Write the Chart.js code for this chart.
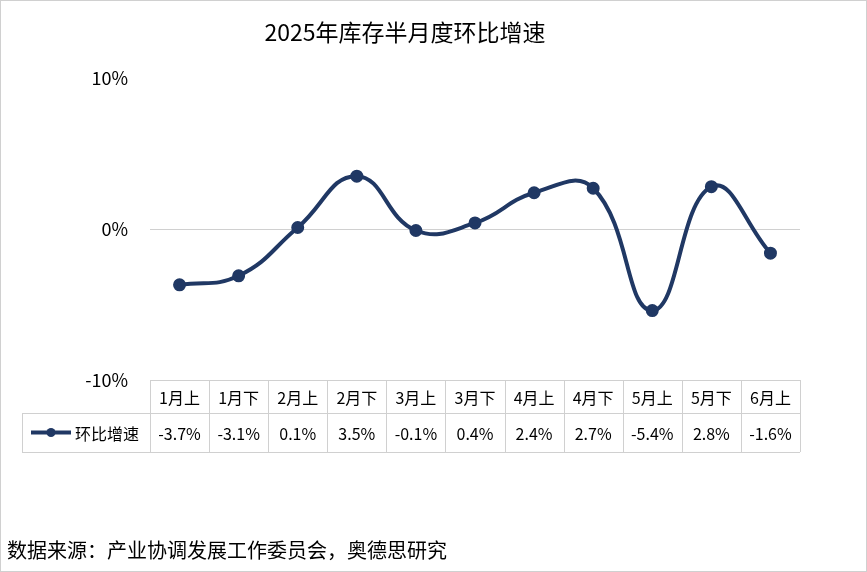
<!DOCTYPE html>
<html>
<head>
<meta charset="utf-8">
<script src="https://cdn.jsdelivr.net/npm/chart.js@4"></script>
<style>
  html, body { margin: 0; padding: 0; background: #fff; }
  #wrap { width: 865px; height: 570px; border: 1px solid #d0d0d0; position: relative; }
</style>
</head>
<body>
<div id="wrap"><canvas id="chart" width="865" height="570"></canvas></div>
<script>
const categories = ['1月上', '1月下', '2月上', '2月下', '3月上', '3月下', '4月上', '4月下', '5月上', '5月下', '6月上'];
const growth = [-3.7, -3.1, 0.1, 3.5, -0.1, 0.4, 2.4, 2.7, -5.4, 2.8, -1.6];
const yTicks = [-10, 0, 10];

const navy = '#203864';
const FONT = '"Microsoft YaHei", "Noto Sans CJK SC", sans-serif';

// draws title, data table under the plot, and the source note
const tablePlugin = {
    id: 'tablePlugin',
    afterDraw(chart) {
        const ctx = chart.ctx;
        const xs = chart.scales.x;
        const area = chart.chartArea;
        const colW = (area.right - area.left) / categories.length;
        const top = area.bottom, mid = top + 33, bot = mid + 39;
        const legL = 21;

        ctx.save();
        ctx.strokeStyle = '#d0d0d0';
        ctx.lineWidth = 1;
        ctx.beginPath();
        ctx.moveTo(area.left, top + 0.5); ctx.lineTo(area.right, top + 0.5);
        ctx.moveTo(legL, mid + 0.5); ctx.lineTo(area.right, mid + 0.5);
        ctx.moveTo(legL, bot + 0.5); ctx.lineTo(area.right, bot + 0.5);
        ctx.moveTo(legL + 0.5, mid); ctx.lineTo(legL + 0.5, bot);
        for (let i = 0; i <= categories.length; i++) {
            const x = Math.round(area.left + i * colW) + 0.5;
            ctx.moveTo(x, top); ctx.lineTo(x, bot);
        }
        ctx.stroke();

        ctx.fillStyle = '#000';
        ctx.font = '16px ' + FONT;
        ctx.textAlign = 'center';
        ctx.textBaseline = 'middle';
        categories.forEach((c, i) => {
            const x = xs.getPixelForValue(i);
            ctx.fillText(c, x, (top + mid) / 2 + 1);
            ctx.fillText(growth[i].toFixed(1) + '%', x, (mid + bot) / 2 + 1);
        });

        // legend key
        const ly = (mid + bot) / 2;
        ctx.strokeStyle = navy;
        ctx.lineWidth = 4;
        ctx.beginPath(); ctx.moveTo(30, ly); ctx.lineTo(70, ly); ctx.stroke();
        ctx.fillStyle = navy;
        ctx.beginPath(); ctx.arc(50, ly, 4.5, 0, Math.PI * 2); ctx.fill();
        ctx.fillStyle = '#000';
        ctx.textAlign = 'left';
        ctx.fillText('环比增速', 74, ly + 1);

        // title
        ctx.textAlign = 'center';
        ctx.font = '23px ' + FONT;
        ctx.fillText('2025年库存半月度环比增速', 404, 31);

        // source
        ctx.textAlign = 'left';
        ctx.font = '20px ' + FONT;
        ctx.fillText('数据来源：产业协调发展工作委员会，奥德思研究', 6, 549);
        ctx.restore();
    }
};

new Chart(document.getElementById('chart'), {
    type: 'line',
    data: {
        labels: categories,
        datasets: [{
            label: '环比增速',
            data: growth,
            borderColor: navy,
            backgroundColor: navy,
            borderWidth: 4,
            pointRadius: 4.5,
            pointHoverRadius: 4.5,
            tension: 0.45
        }]
    },
    options: {
        responsive: false,
        animation: false,
        layout: { padding: { top: 77, bottom: 191, right: 66, left: 0 } },
        plugins: { legend: { display: false }, tooltip: { enabled: false } },
        scales: {
            x: { display: false, offset: true },
            y: {
                min: -10, max: 10,
                afterBuildTicks: s => { s.ticks = yTicks.map(v => ({ value: v })); },
                afterFit: s => { s.width = 149; },
                border: { display: false },
                grid: {
                    drawTicks: false,
                    color: c => c.tick && c.tick.value === 0 ? '#d0d0d0' : 'rgba(0,0,0,0)'
                },
                ticks: {
                    color: '#000',
                    padding: 22,
                    font: { size: 18, family: FONT },
                    callback: v => v + '%'
                }
            }
        }
    },
    plugins: [tablePlugin]
});
</script>
</body>
</html>
